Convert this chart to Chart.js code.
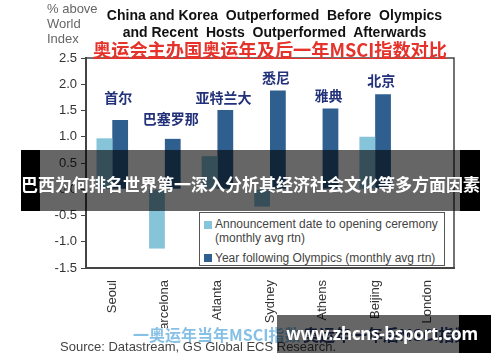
<!DOCTYPE html>
<html>
<head>
<meta charset="utf-8">
<script src="https://cdn.jsdelivr.net/npm/chart.js@4"></script>
<style>
  body { margin: 0; background: #fff; }
  #wrap { position: relative; width: 500px; height: 362px; overflow: hidden; font-family: Arial, "Liberation Sans", sans-serif; }
  canvas { position: absolute; left: 0; top: 0; }
  .txt { position: absolute; white-space: pre; }
  .legend { position: absolute; left: 199px; top: 212px; width: 246px; height: 54px; border: 1px solid #555; background: #fff; box-sizing: border-box; }
  .sw { position: absolute; width: 8px; height: 8px; }
</style>
</head>
<body>
<div id="wrap">
  <canvas id="barChart" width="500" height="362"></canvas>

  <div class="txt" style="left:47px;top:1px;font-size:13px;line-height:15px;color:#666;">% above
World
Index</div>
  <div class="txt" style="left:0;width:549px;top:7px;text-align:center;font-weight:bold;font-size:14px;color:#111;">China and Korea  Outperformed  Before  Olympics</div>
  <div class="txt" style="left:0;width:549px;top:24px;text-align:center;font-weight:bold;font-size:14px;color:#111;">and Recent  Hosts  Outperformed  Afterwards</div>
  <div class="txt" style="left:93px;top:36px;font-weight:bold;font-size:18.2px;color:#e5322b;text-decoration:underline;font-family:'Noto Sans CJK SC',sans-serif;">奥运会主办国奥运年及后一年MSCI指数对比</div>

  <div class="legend">
    <div class="sw" style="left:4px;top:8px;background:#86c4da;"></div>
    <div class="txt" style="left:15px;top:4px;font-size:12px;color:#444;line-height:14px;">Announcement date to opening ceremony
(monthly avg rtn)</div>
    <div class="sw" style="left:4px;top:41px;background:#2f5f8f;"></div>
    <div class="txt" style="left:15px;top:38px;font-size:12px;color:#444;">Year following Olympics (monthly avg rtn)</div>
  </div>

  <div class="txt" style="left:133px;top:322px;font-weight:bold;font-size:16px;color:#86c0e6;font-family:'Noto Sans CJK SC',sans-serif;">一奥运年当年MSCI指数</div>
  <div class="txt" style="left:303px;top:322px;font-weight:bold;font-size:16px;color:#2a3f7a;font-family:'Noto Sans CJK SC',sans-serif;">奥运年一年后MSCI指数</div>
  <div class="txt" style="left:60px;top:339px;font-size:13px;color:#444;">Source: Datastream, GS Global ECS Research.</div>

  <!-- overlay banners from the reference picture -->
  <div style="position:absolute;left:21px;top:150px;width:459px;height:61px;background:rgba(0,0,0,0.6);"></div>
  <div style="position:absolute;left:21px;top:150px;width:19px;height:61px;background:#000;"></div>
  <div style="position:absolute;left:460px;top:150px;width:20px;height:61px;background:#000;"></div>
  <div class="txt" style="left:21px;width:459px;top:172px;text-align:center;font-weight:bold;font-size:17px;color:#fff;font-family:'Noto Sans CJK SC',sans-serif;line-height:24px;">巴西为何排名世界第一深入分析其经济社会文化等多方面因素</div>

  <div style="position:absolute;left:277px;top:315px;width:182px;height:38px;background:rgba(0,0,0,0.6);"></div>
  <div style="position:absolute;left:459px;top:315px;width:32px;height:38px;background:#000;"></div>
  <div class="txt" style="left:282px;width:200px;top:322px;text-align:center;font-weight:bold;font-size:17px;letter-spacing:-0.3px;color:#fff;font-family:'Noto Sans',sans-serif;line-height:24px;">www.zhcns-bsport.com</div>
</div>

<script>
var cities = ["Seoul", "Barcelona", "Atlanta", "Sydney", "Athens", "Beijing", "London"];
var cityNamesCn = ["首尔", "巴塞罗那", "亚特兰大", "悉尼", "雅典", "北京", null];
// % above world index, monthly avg return
var announceToOpening = [0.97, -1.13, 0.63, -0.33, 0, 1.0, null];
var yearFollowing = [1.32, 0.96, 1.51, 1.88, 1.54, 1.81, null];
// y value at which each chinese city name sits
var cnLabelLevel = [1.75, 1.35, 1.75, 2.13, 1.78, 2.07, null];
var yTicks = [-1.5, -1.0, -0.5, 0, 0.5, 1.0, 1.5, 2.0, 2.5];

var frameAndLabels = {
  id: "frameAndLabels",
  afterDraw: function (chart) {
    var ctx = chart.ctx;
    var area = chart.chartArea;
    var xs = chart.scales.x, ys = chart.scales.y;
    ctx.save();
    ctx.strokeStyle = "#444";
    ctx.lineWidth = 1.5;
    ctx.beginPath();
    ctx.moveTo(area.left, area.top);
    ctx.lineTo(area.right, area.top);
    ctx.lineTo(area.right, area.bottom);
    ctx.stroke();

    ctx.fillStyle = "#22317a";
    ctx.font = "bold 14px 'Noto Sans CJK SC', sans-serif";
    ctx.textAlign = "center";
    ctx.textBaseline = "middle";
    cityNamesCn.forEach(function (name, i) {
      if (!name) return;
      var x = xs.getPixelForValue(i) + 6;
      var y = ys.getPixelForValue(cnLabelLevel[i]);
      ctx.fillText(name, x, y);
    });
    ctx.restore();
  }
};

var ctx = document.getElementById("barChart").getContext("2d");
window.myBarChart = new Chart(ctx, {
  type: "bar",
  data: {
    labels: cities,
    datasets: [
      {
        label: "Announcement date to opening ceremony (monthly avg rtn)",
        backgroundColor: "#86c4da",
        data: announceToOpening,
      },
      {
        label: "Year following Olympics (monthly avg rtn)",
        backgroundColor: "#2f5f8f",
        data: yearFollowing,
      },
    ],
  },
  options: {
    responsive: false,
    animation: false,
    events: [],
    layout: { padding: { left: 48, top: 58, right: 46, bottom: 34 } },
    plugins: { legend: { display: false }, tooltip: { enabled: false } },
    datasets: { bar: { categoryPercentage: 0.6, barPercentage: 1.0 } },
    scales: {
      x: {
        afterFit: function (s) { s.height = 60; },
        grid: { display: false },
        border: { display: true, color: "#444", width: 2 },
        ticks: {
          minRotation: 90, maxRotation: 90, padding: 4,
          color: "#333", font: { size: 13, family: "Arial" },
        },
      },
      y: {
        min: -1.5,
        max: 2.5,
        afterFit: function (s) { s.width = 38; },
        afterBuildTicks: function (s) { s.ticks = yTicks.map(function (v) { return { value: v }; }); },
        grid: { drawOnChartArea: false, tickLength: 5, color: "#444" },
        border: { display: true, color: "#444", width: 2 },
        ticks: {
          padding: 4, color: "#333", font: { size: 13, family: "Arial" },
          callback: function (v) { return v.toFixed(1); },
        },
      },
    },
  },
  plugins: [frameAndLabels],
});
</script>
</body>
</html>
